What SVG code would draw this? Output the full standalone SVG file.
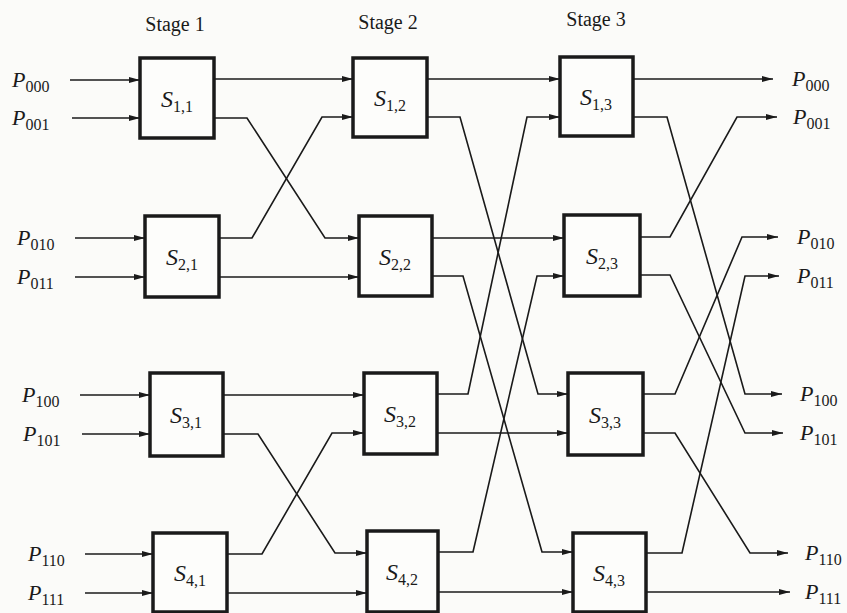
<svg xmlns="http://www.w3.org/2000/svg" width="847" height="613" viewBox="0 0 847 613">
<style>
.bg{fill:#fbfbf9}
.box{fill:#fdfdfb;stroke:#1a1a1a;stroke-width:3.5}
.ln{fill:none;stroke:#1a1a1a;stroke-width:1.6;marker-end:url(#ah)}
.st{font-family:"Liberation Serif","Times New Roman","DejaVu Serif",serif;font-size:20px;fill:#1a1a1a}
.p{font-family:"Liberation Serif","Times New Roman","DejaVu Serif",serif;font-size:22px;font-style:italic;fill:#1a1a1a}
.s{font-family:"Liberation Serif","Times New Roman","DejaVu Serif",serif;font-size:24px;font-style:italic;fill:#1a1a1a;text-anchor:middle}
.sub{font-style:normal;font-size:16px}
</style>
<defs>
<marker id="ah" markerUnits="userSpaceOnUse" markerWidth="11" markerHeight="7" refX="11" refY="3.5" orient="auto">
<path d="M0,0.5 L11,3.5 L0,6.5 z" fill="#1a1a1a"/>
</marker>
</defs>
<rect class="bg" x="0" y="0" width="847" height="613"/>
<g id="stage-labels">
<text class="st" x="175" y="31" text-anchor="middle">Stage 1</text>
<text class="st" x="388" y="29" text-anchor="middle">Stage 2</text>
<text class="st" x="596" y="26" text-anchor="middle">Stage 3</text>
</g>
<g id="inputs">
<text class="p" x="12" y="87">P<tspan class="sub" dy="5">000</tspan></text>
<text class="p" x="12" y="125">P<tspan class="sub" dy="5">001</tspan></text>
<text class="p" x="17" y="245">P<tspan class="sub" dy="5">010</tspan></text>
<text class="p" x="17" y="284">P<tspan class="sub" dy="5">011</tspan></text>
<text class="p" x="22" y="402">P<tspan class="sub" dy="5">100</tspan></text>
<text class="p" x="23" y="441">P<tspan class="sub" dy="5">101</tspan></text>
<text class="p" x="28" y="561">P<tspan class="sub" dy="5">110</tspan></text>
<text class="p" x="28" y="600">P<tspan class="sub" dy="5">111</tspan></text>
</g>
<g id="outputs">
<text class="p" x="792" y="86">P<tspan class="sub" dy="5">000</tspan></text>
<text class="p" x="793" y="124">P<tspan class="sub" dy="5">001</tspan></text>
<text class="p" x="797" y="244">P<tspan class="sub" dy="5">010</tspan></text>
<text class="p" x="797" y="283">P<tspan class="sub" dy="5">011</tspan></text>
<text class="p" x="800" y="401">P<tspan class="sub" dy="5">100</tspan></text>
<text class="p" x="800" y="440">P<tspan class="sub" dy="5">101</tspan></text>
<text class="p" x="805" y="560">P<tspan class="sub" dy="5">110</tspan></text>
<text class="p" x="805" y="599">P<tspan class="sub" dy="5">111</tspan></text>
</g>
<g id="S11"><rect class="box" x="140" y="58" width="74" height="80"/><text class="s" x="177" y="107">S<tspan class="sub" dy="5">1,1</tspan></text></g>
<g id="S21"><rect class="box" x="145" y="216" width="74" height="81"/><text class="s" x="182" y="265">S<tspan class="sub" dy="5">2,1</tspan></text></g>
<g id="S31"><rect class="box" x="150" y="373" width="73" height="83"/><text class="s" x="186" y="423">S<tspan class="sub" dy="5">3,1</tspan></text></g>
<g id="S41"><rect class="box" x="153" y="533" width="74" height="79"/><text class="s" x="190" y="581">S<tspan class="sub" dy="5">4,1</tspan></text></g>
<g id="S12"><rect class="box" x="353" y="58" width="74" height="79"/><text class="s" x="390" y="106">S<tspan class="sub" dy="5">1,2</tspan></text></g>
<g id="S22"><rect class="box" x="359" y="216" width="73" height="80"/><text class="s" x="395" y="265">S<tspan class="sub" dy="5">2,2</tspan></text></g>
<g id="S32"><rect class="box" x="364" y="373" width="73" height="81"/><text class="s" x="400" y="422">S<tspan class="sub" dy="5">3,2</tspan></text></g>
<g id="S42"><rect class="box" x="367" y="531" width="71" height="81"/><text class="s" x="402" y="580">S<tspan class="sub" dy="5">4,2</tspan></text></g>
<g id="S13"><rect class="box" x="560" y="57" width="73" height="79"/><text class="s" x="596" y="105">S<tspan class="sub" dy="5">1,3</tspan></text></g>
<g id="S23"><rect class="box" x="564" y="215" width="76" height="81"/><text class="s" x="602" y="264">S<tspan class="sub" dy="5">2,3</tspan></text></g>
<g id="S33"><rect class="box" x="568" y="373" width="75" height="82"/><text class="s" x="605" y="423">S<tspan class="sub" dy="5">3,3</tspan></text></g>
<g id="S43"><rect class="box" x="573" y="533" width="73" height="79"/><text class="s" x="609" y="581">S<tspan class="sub" dy="5">4,3</tspan></text></g>
<g id="connectors">
<path class="ln" d="M70,80 H140"/>
<path class="ln" d="M72,118 H140"/>
<path class="ln" d="M75,238 H145"/>
<path class="ln" d="M75,277 H145"/>
<path class="ln" d="M80,395 H150"/>
<path class="ln" d="M82,434 H150"/>
<path class="ln" d="M85,554 H153"/>
<path class="ln" d="M85,593 H153"/>
<path class="ln" d="M214,79 H353"/>
<path class="ln" d="M214,118 H247 L325,238 H359"/>
<path class="ln" d="M219,238 H252 L322,117 H353"/>
<path class="ln" d="M219,277 H359"/>
<path class="ln" d="M223,395 H364"/>
<path class="ln" d="M223,434 H258 L335,553 H367"/>
<path class="ln" d="M227,554 H262 L332,433 H364"/>
<path class="ln" d="M227,593 H367"/>
<path class="ln" d="M427,79 H560"/>
<path class="ln" d="M427,117 H460 L538,394 H568"/>
<path class="ln" d="M432,238 H564"/>
<path class="ln" d="M432,276 H463 L542,552 H573"/>
<path class="ln" d="M437,394 H468 L527,117 H560"/>
<path class="ln" d="M437,433 H568"/>
<path class="ln" d="M438,552 H473 L537,276 H564"/>
<path class="ln" d="M438,592 H573"/>
<path class="ln" d="M633,79 H773"/>
<path class="ln" d="M633,117 H667 L745,394 H782"/>
<path class="ln" d="M640,237 H670 L737,117 H777"/>
<path class="ln" d="M640,275 H670 L745,433 H783"/>
<path class="ln" d="M643,394 H675 L742,237 H778"/>
<path class="ln" d="M643,433 H675 L750,553 H788"/>
<path class="ln" d="M646,553 H682 L745,276 H779"/>
<path class="ln" d="M646,592 H790"/>
</g>
</svg>
